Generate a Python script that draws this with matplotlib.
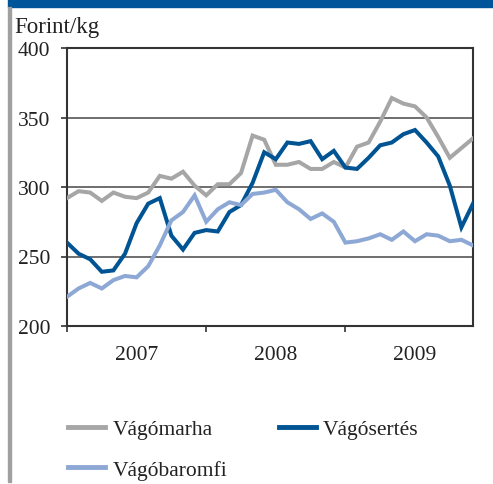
import matplotlib
matplotlib.use("Agg")
import matplotlib.pyplot as plt
from matplotlib.lines import Line2D
from matplotlib.patches import Rectangle

# Data: monthly prices Jan 2007 - Dec 2009 (Forint/kg)
years = ["2007", "2008", "2009"]
vagomarha = [292, 297, 296, 290, 296, 293, 292, 296, 308, 306, 311, 301,
             294, 302, 302, 310, 337, 334, 316, 316, 318, 313, 313, 318,
             314, 329, 332, 347, 364, 360, 358, 350, 336, 321, 328, 335]
vagosertes = [260, 252, 248, 239, 240, 252, 274, 288, 292, 265, 255, 267,
              269, 268, 282, 287, 303, 325, 320, 332, 331, 333, 320, 326,
              314, 313, 321, 330, 332, 338, 341, 332, 322, 301, 271, 288]
vagobaromfi = [221, 227, 231, 227, 233, 236, 235, 243, 258, 276, 282, 294,
               275, 284, 289, 287, 295, 296, 298, 289, 284, 277, 281, 275,
               260, 261, 263, 266, 262, 268, 261, 266, 265, 261, 262, 258]
labels = ["Vágómarha", "Vágósertés", "Vágóbaromfi"]
colors = ["#A6A6A6", "#005493", "#8DA8D4"]

W, H = 493, 485
fig = plt.figure(figsize=(W / 100, H / 100), dpi=100)
plt.rcParams['font.family'] = ['Liberation Serif', 'DejaVu Serif']
fs = 15.5

# decoration: top blue bar and left gray rule
fig.patches.append(Rectangle((8 / W, 1 - 8 / H), 1 - 8 / W, 8 / H,
                             transform=fig.transFigure, color="#00559A", zorder=0))
fig.patches.append(Rectangle((8 / W, 2 / H), 3 / W, 1 - 10 / H,
                             transform=fig.transFigure, color="#A0A0A0", zorder=0))

ax = fig.add_axes([67 / W, 1 - 327 / H, 406 / W, 278 / H])
x = list(range(len(vagomarha)))
for series, lab, col in zip([vagomarha, vagosertes, vagobaromfi], labels, colors):
    ax.plot(x, series, color=col, lw=2.9, label=lab, solid_joinstyle="miter", zorder=3)

ax.set_xlim(0, len(vagomarha) - 1)
ax.set_ylim(200, 400)
ax.set_yticks([200, 250, 300, 350, 400])
ax.yaxis.grid(True, color="#555555", lw=1.2)
ax.set_axisbelow(True)
ax.set_xticks([0, 12, 24])
ax.set_xticklabels([])
ax.set_xticks([6, 18, 30], minor=True)
ax.set_xticklabels(years, minor=True)
ax.tick_params(axis="x", which="minor", length=0, pad=14, labelsize=fs, colors="#222222")
ax.tick_params(axis="x", which="major", length=4, width=1.2, direction="out", color="#333333")
ax.tick_params(axis="y", length=4, width=1.2, pad=8, labelsize=fs, colors="#222222")
ax.tick_params(axis="y", color="#333333")
for sp in ax.spines.values():
    sp.set_color("#333333")
    sp.set_linewidth(1.5)

fig.text(14 / W, 1 - 33 / H, "Forint/kg", fontsize=fs + 1, color="#222222", va="baseline")

# legend: row 1 = marha, sertés; row 2 = baromfi (column-wise fill)
order = [0, 2, 1]
handles = [Line2D([], [], color=colors[i], lw=3.5) for i in order]
leg = fig.legend(handles, [labels[i] for i in order], loc="upper left",
                 bbox_to_anchor=(49 / W, 1 - 401 / H),
                 ncol=2, frameon=False, fontsize=fs, handlelength=1.7, handletextpad=0.35,
                 columnspacing=2.4, labelspacing=0.95)
for t in leg.get_texts():
    t.set_color("#222222")

fig.savefig("out.png", dpi=100)
